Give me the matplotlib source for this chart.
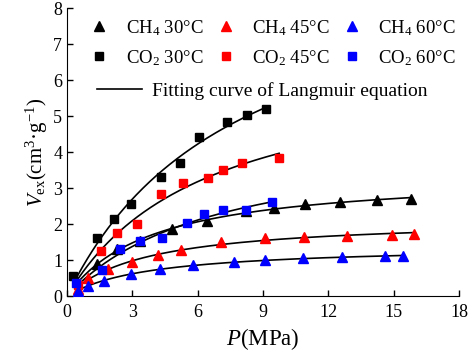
import numpy as np
import matplotlib
matplotlib.use("Agg")
import matplotlib.pyplot as plt
from matplotlib.lines import Line2D

plt.rcParams['font.family'] = ['Liberation Serif', 'DejaVu Serif']
plt.rcParams['mathtext.fontset'] = 'custom'
plt.rcParams['mathtext.rm'] = 'Liberation Serif'
plt.rcParams['mathtext.it'] = 'Liberation Serif:italic'

# --- data (P in MPa, V in cm3/g) ---
ch4_30_p = [1.36, 2.28, 3.36, 4.82, 6.44, 8.2, 9.51, 10.92, 12.54, 14.25, 15.78]
ch4_30_v = [0.88, 1.30, 1.53, 1.85, 2.08, 2.35, 2.46, 2.56, 2.61, 2.66, 2.69]
ch4_45_p = [0.5, 0.98, 1.9, 2.98, 4.2, 5.23, 7.05, 9.08, 10.87, 12.87, 14.91, 15.92]
ch4_45_v = [0.20, 0.49, 0.75, 0.95, 1.13, 1.27, 1.50, 1.60, 1.65, 1.68, 1.71, 1.72]
ch4_60_p = [0.5, 0.98, 1.71, 2.94, 4.25, 5.8, 7.68, 9.11, 10.83, 12.63, 14.6, 15.43]
ch4_60_v = [0.15, 0.29, 0.43, 0.60, 0.75, 0.86, 0.95, 1.00, 1.05, 1.08, 1.11, 1.11]
co2_30_p = [0.29, 1.36, 2.14, 2.95, 4.33, 5.2, 6.06, 7.33, 8.26, 9.13]
co2_30_v = [0.57, 1.61, 2.13, 2.57, 3.31, 3.69, 4.41, 4.83, 5.03, 5.19]
co2_45_p = [0.5, 1.56, 2.31, 3.21, 4.33, 5.32, 6.47, 7.16, 8.03, 9.74]
co2_45_v = [0.30, 1.25, 1.75, 2.01, 2.83, 3.13, 3.28, 3.50, 3.69, 3.83]
co2_60_p = [0.4, 1.59, 2.43, 3.36, 4.36, 5.49, 6.31, 7.17, 8.2, 9.43]
co2_60_v = [0.35, 0.72, 1.30, 1.53, 1.60, 2.02, 2.27, 2.38, 2.38, 2.62]

# order = legend column order (column-major, 2 rows)
series = [
    ("CH$_4$ 30°C", ch4_30_p, ch4_30_v, "black", "^"),
    ("CO$_2$ 30°C", co2_30_p, co2_30_v, "black", "s"),
    ("CH$_4$ 45°C", ch4_45_p, ch4_45_v, "red", "^"),
    ("CO$_2$ 45°C", co2_45_p, co2_45_v, "red", "s"),
    ("CH$_4$ 60°C", ch4_60_p, ch4_60_v, "blue", "^"),
    ("CO$_2$ 60°C", co2_60_p, co2_60_v, "blue", "s"),
]


def langmuir_fit(p, v):
    """Least squares fit of V = VL*P/(PL+P): scan PL, VL solved linearly."""
    p = np.asarray(p, float)
    v = np.asarray(v, float)
    best = None
    for pl in np.linspace(0.2, 30, 3000):
        g = p / (pl + p)
        vl = (g @ v) / (g @ g)
        err = np.sum((vl * g - v) ** 2)
        if best is None or err < best[0]:
            best = (err, vl, pl)
    return best[1], best[2]


fig = plt.figure(figsize=(4.7, 3.55), dpi=100)
ax = fig.add_axes([0.1426, 0.166, 0.834, 0.811])

handles = []
for label, p, v, color, mk in series:
    ms = 7 if mk == "^" else 6
    ax.plot(p, v, linestyle="none", marker=mk, color=color, markersize=ms, zorder=3)
    vl, pl = langmuir_fit(p, v)
    pp = np.linspace(0.5, max(p), 200)
    ax.plot(pp, vl * pp / (pl + pp), color="black", linewidth=1.2, zorder=2)
    handles.append(Line2D([], [], linestyle="none", marker=mk, color=color,
                          markersize=ms, label=label))

ax.set_xlim(0, 18)
ax.set_ylim(0, 8)
ax.set_xticks(range(0, 19, 3))
ax.set_yticks(range(0, 9))
ax.spines['top'].set_visible(False)
ax.spines['right'].set_visible(False)
ax.tick_params(direction="in", length=4, labelsize=13, width=1)
ax.tick_params(axis="x", pad=6)
ax.set_xlabel("$P$(MPa)", fontsize=16.5, labelpad=3)
ax.set_ylabel("$V_{\\rm ex}$(cm$^3$·g$^{-1}$)", fontsize=15, labelpad=2)

leg1 = ax.legend(handles=handles, ncol=3, frameon=False, fontsize=13.5,
                 loc="upper left", bbox_to_anchor=(0.054, 0.966),
                 handlelength=1.2, handletextpad=0.8, columnspacing=0.6,
                 labelspacing=0.55, borderaxespad=0, borderpad=0)
ax.add_artist(leg1)
fit_handle = Line2D([], [], color="black", linewidth=1.2,
                    label="Fitting curve of Langmuir equation")
ax.legend(handles=[fit_handle], frameon=False, fontsize=14,
          loc="upper left", bbox_to_anchor=(0.077, 0.743),
          handlelength=2.3, handletextpad=0.5, borderaxespad=0, borderpad=0)

fig.savefig("out.png", dpi=100)
